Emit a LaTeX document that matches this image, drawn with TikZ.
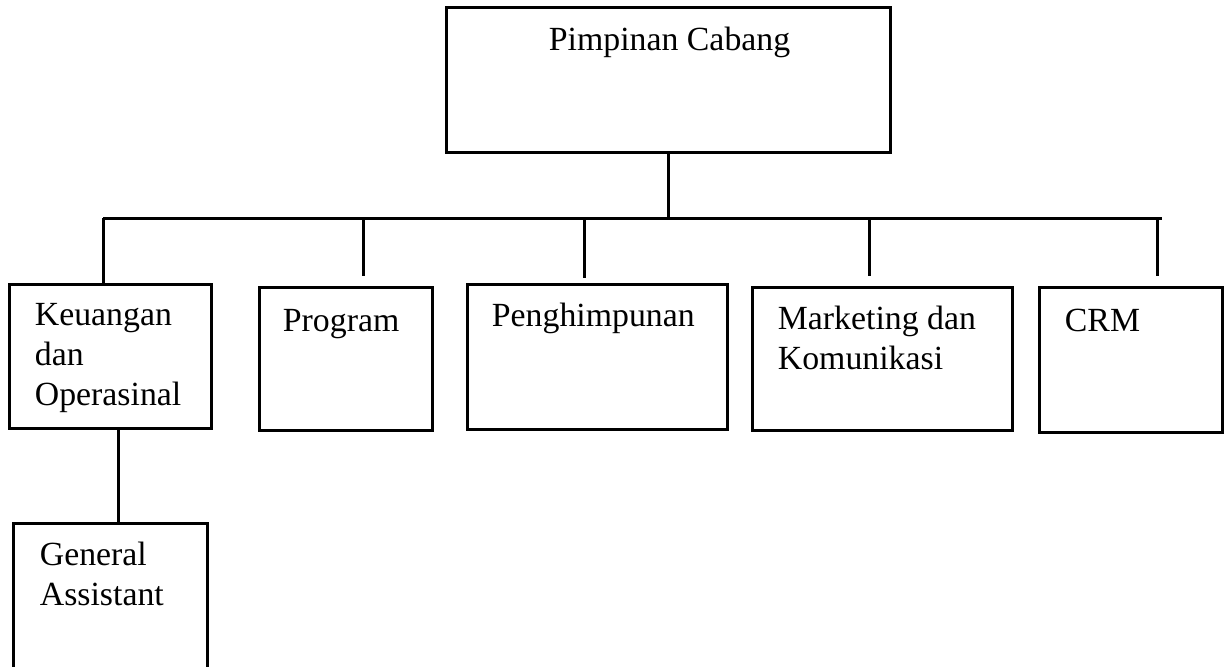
\documentclass[tikz,border=0pt]{standalone}
\usepackage{fontspec}
\setmainfont{Liberation Serif}
\usetikzlibrary{calc}

\tikzset{
	unit/.style 2 args={draw, line width=1.5pt, inner sep=0pt, minimum width=#1*0.5pt, minimum height=#2*0.5pt},
	txt/.style 2 args={anchor=base west, align=left, inner sep=0pt, xshift=#1*0.5pt, yshift=-#2*0.5pt, font=\fontsize{16.9}{20}\selectfont},
	link/.style={line width=1.5pt}
}

\begin{document}
\begin{tikzpicture}[x=0.5pt, y=-0.5pt, label distance=0pt]
		\clip (0,0) rectangle (1230,666);

		% Boxes (text offset goes to the baseline of the last line)
		\node[unit={444}{145}, label={[txt={104}{45}]north west:Pimpinan Cabang}] (pc) at (668,79.5) {};
		\node[unit={202}{144}, label={[txt={27}{123}]north west:{Keuangan\\dan\\Operasinal}}] (keu) at (110,356) {};
		\node[unit={173}{143}, label={[txt={25}{46}]north west:Program}] (prog) at (345.5,358.5) {};
		\node[unit={260}{145}, label={[txt={26}{44}]north west:Penghimpunan}] (peng) at (597,356.5) {};
		\node[unit={260}{143}, label={[txt={27}{84}]north west:{Marketing dan\\Komunikasi}}] (mark) at (882,358.5) {};
		\node[unit={183}{145}, label={[txt={27}{46}]north west:CRM}] (crm) at (1130.5,359.5) {};
		\node[unit={194}{200}, label={[txt={28}{84}]north west:{General\\Assistant}}] (ga) at (110,623) {};

		% Bus
		\coordinate (b1) at (103,218);
		\coordinate (b2) at (363,218);
		\coordinate (b3) at (584,218);
		\coordinate (b4) at (869,218);
		\coordinate (b5) at (1157,218);
		\coordinate (b6) at (1162,218);

		% Connections
		\draw[link] (pc.south) -- (pc.south |- b1);
		\draw[link] (b1) -- (b6);
		\draw[link] (b1) -- (b1 |- keu.north);
		\draw[link, shorten >=5pt] (b2) -- (b2 |- prog.north);
		\draw[link, shorten >=2.5pt] (b3) -- (b3 |- peng.north);
		\draw[link, shorten >=5pt] (b4) -- (b4 |- mark.north);
		\draw[link, shorten >=5pt] (b5) -- (b5 |- crm.north);
		\draw[link] ([xshift=4pt]keu.south) -- ([xshift=4pt]keu.south |- ga.north);

	\end{tikzpicture}
\end{document}
